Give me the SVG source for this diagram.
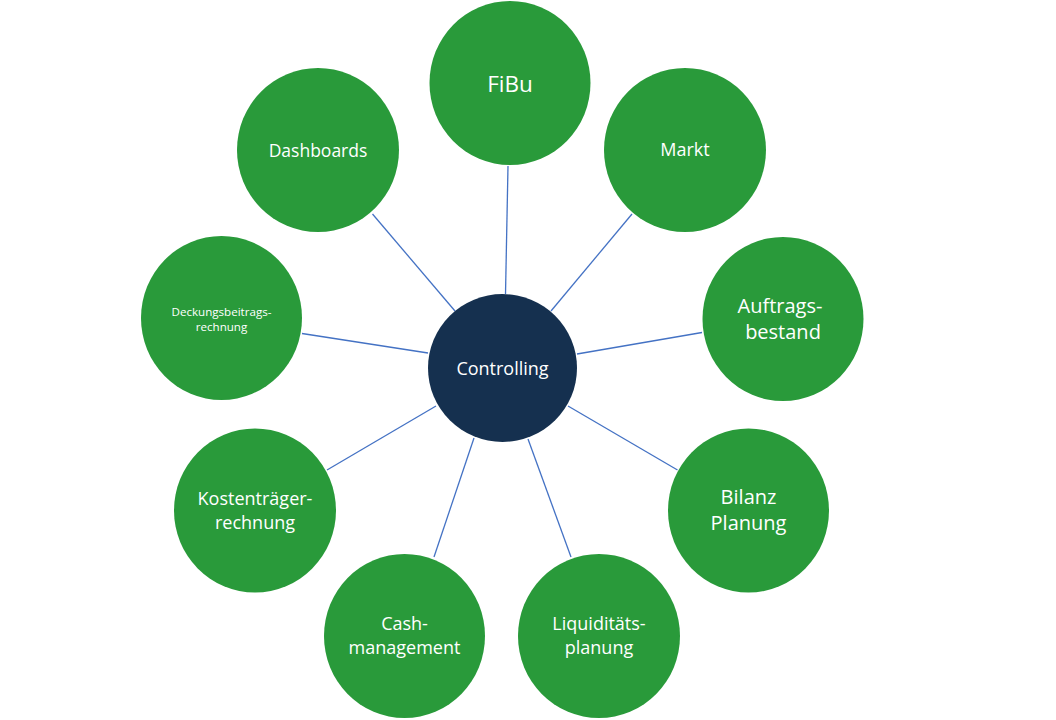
<svg xmlns="http://www.w3.org/2000/svg" width="1056" height="720" viewBox="0 0 1056 720">
<style>
.n{fill:#299A3A}
.c{fill:#15304F}
.t{fill:#ffffff;font-family:"Open Sans","Noto Sans",sans-serif;text-anchor:middle}
.l{stroke:#4472C4;stroke-width:1.3;fill:none}
</style>
<rect width="1056" height="720" fill="#ffffff"/>
<g id="connectors">
<line class="l" x1="508" y1="166" x2="505.5" y2="294"/>
<line class="l" x1="632" y1="214" x2="551" y2="311"/>
<line class="l" x1="702" y1="332.5" x2="577" y2="354"/>
<line class="l" x1="677.5" y1="470" x2="568" y2="406"/>
<line class="l" x1="571" y1="557" x2="528" y2="439"/>
<line class="l" x1="434" y1="557" x2="474" y2="438"/>
<line class="l" x1="327" y1="470" x2="436" y2="406"/>
<line class="l" x1="302" y1="333.5" x2="428" y2="353"/>
<line class="l" x1="372.5" y1="214" x2="455" y2="311"/>
</g>
<g id="fibu">
<ellipse class="n" cx="510" cy="83" rx="80.5" ry="82"/>
<text class="t" x="510" y="92" font-size="22.5">FiBu</text>
</g>
<g id="markt">
<ellipse class="n" cx="685" cy="150" rx="81" ry="82"/>
<text class="t" x="685" y="156" font-size="18">Markt</text>
</g>
<g id="auftragsbestand">
<ellipse class="n" cx="783" cy="319" rx="80.5" ry="82"/>
<text class="t" x="780" y="313" font-size="20">Auftrags-</text>
<text class="t" x="783" y="338.5" font-size="20">bestand</text>
</g>
<g id="bilanz">
<ellipse class="n" cx="748.5" cy="510.5" rx="80.5" ry="82"/>
<text class="t" x="748.5" y="504" font-size="20">Bilanz</text>
<text class="t" x="748.5" y="530" font-size="20">Planung</text>
</g>
<g id="liquiditaet">
<ellipse class="n" cx="599" cy="636" rx="81" ry="82"/>
<text class="t" x="599" y="630" font-size="18">Liquiditäts-</text>
<text class="t" x="599" y="653.5" font-size="18">planung</text>
</g>
<g id="cash">
<ellipse class="n" cx="404.5" cy="636" rx="80.5" ry="82"/>
<text class="t" x="404.5" y="630" font-size="18">Cash-</text>
<text class="t" x="404.5" y="653.5" font-size="18">management</text>
</g>
<g id="kostentraeger">
<ellipse class="n" cx="255" cy="510.5" rx="81" ry="82"/>
<text class="t" x="255" y="505" font-size="18">Kostenträger-</text>
<text class="t" x="255" y="528.5" font-size="18">rechnung</text>
</g>
<g id="deckungsbeitrag">
<ellipse class="n" cx="221.5" cy="318" rx="80.5" ry="82"/>
<text class="t" x="221.5" y="316" font-size="11.6">Deckungsbeitrags-</text>
<text class="t" x="221.5" y="331" font-size="11.6">rechnung</text>
</g>
<g id="dashboards">
<ellipse class="n" cx="318" cy="150" rx="81" ry="82"/>
<text class="t" x="318" y="156.5" font-size="17.5">Dashboards</text>
</g>
<g id="controlling">
<ellipse class="c" cx="502.5" cy="368" rx="74.5" ry="74"/>
<text class="t" x="502.5" y="374.5" font-size="18">Controlling</text>
</g>
</svg>
